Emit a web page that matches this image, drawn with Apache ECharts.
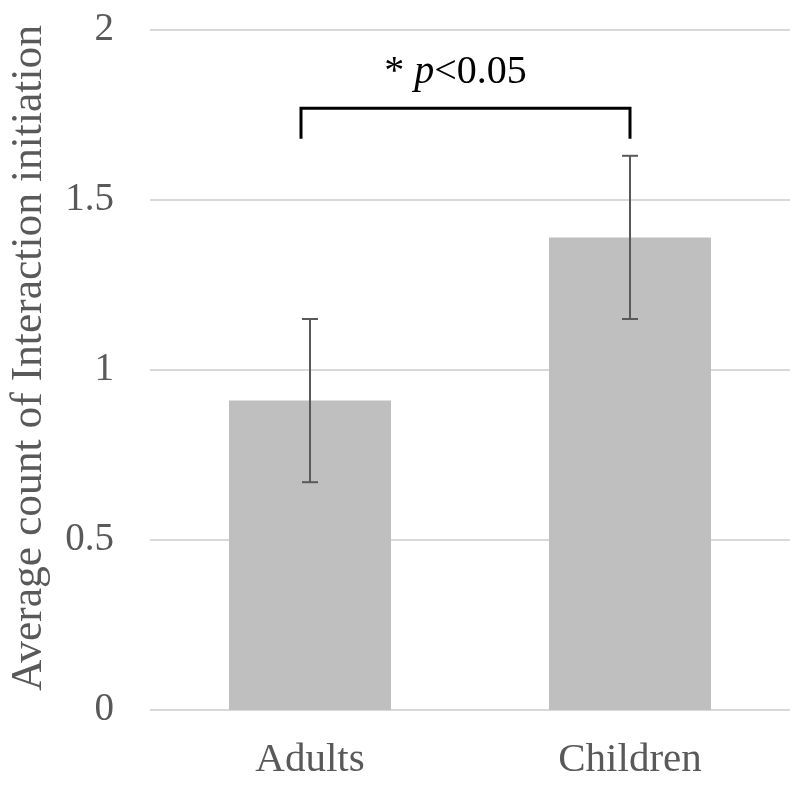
<!DOCTYPE html>
<html>
<head>
<meta charset="utf-8">
<script src="https://cdn.jsdelivr.net/npm/echarts@6/dist/echarts.min.js"></script>
<style>html,body{margin:0;padding:0;background:#fff}#c{width:800px;height:787px}</style>
</head>
<body>
<div id="c"></div>
<script>
const categories = ['Adults', 'Children'];
const means = [0.91, 1.39];
const errors = [0.24, 0.24];
const yTicks = [0, 0.5, 1, 1.5, 2];
const yAxisTitle = 'Average count of Interaction initiation';
const sigFrom = 'Adults';
const sigTo = 'Children';
const sigTop = 1.77;
const sigBottom = 1.68;
const sigText = '* p<0.05';

const chart = echarts.init(document.getElementById('c'), null, {renderer: 'canvas'});
const FONT = '"Liberation Serif", "Times New Roman", serif';

const errData = categories.map((c, i) => [i, means[i] - errors[i], means[i] + errors[i]]);

chart.setOption({
  animation: false,
  grid: {left: 150, right: 10, top: 30, bottom: 77},
  xAxis: {
    type: 'category',
    data: categories,
    axisLine: {show: false},
    axisTick: {show: false},
    axisLabel: {color: '#595959', fontFamily: FONT, fontSize: 41, margin: 30}
  },
  yAxis: {
    type: 'value',
    min: yTicks[0], max: yTicks[yTicks.length - 1], interval: 0.5,
    name: yAxisTitle,
    nameLocation: 'middle',
    nameGap: 98,
    nameTextStyle: {color: '#595959', fontFamily: FONT, fontSize: 43.5, padding: [0, 0, 0, 24]},
    axisLine: {show: false},
    axisTick: {show: false},
    splitLine: {lineStyle: {color: '#d9d9d9', width: 2}},
    axisLabel: {color: '#595959', fontFamily: FONT, fontSize: 39, margin: 36}
  },
  series: [
    {
      type: 'bar',
      data: means,
      barWidth: 162,
      itemStyle: {color: '#bfbfbf'}
    },
    {
      type: 'custom',
      data: errData,
      renderItem: function (params, api) {
        const x = api.value(0);
        const lo = api.coord([x, api.value(1)]);
        const hi = api.coord([x, api.value(2)]);
        const hw = 8;
        const st = {stroke: '#595959', lineWidth: 2};
        return {type: 'group', children: [
          {type: 'line', shape: {x1: lo[0], y1: lo[1], x2: hi[0], y2: hi[1]}, style: st},
          {type: 'line', shape: {x1: lo[0] - hw, y1: lo[1], x2: lo[0] + hw, y2: lo[1]}, style: st},
          {type: 'line', shape: {x1: hi[0] - hw, y1: hi[1], x2: hi[0] + hw, y2: hi[1]}, style: st}
        ]};
      },
      z: 5
    },
    {
      type: 'custom',
      data: [[categories.indexOf(sigFrom), categories.indexOf(sigTo), sigTop, sigBottom]],
      renderItem: function (params, api) {
        const a = api.coord([api.value(0), api.value(2)]);
        const b = api.coord([api.value(1), api.value(2)]);
        const ab = api.coord([api.value(0), api.value(3)]);
        const x1 = a[0] - 9, x2 = b[0];
        const st = {stroke: '#000', lineWidth: 3, fill: null, lineJoin: 'miter'};
        return {type: 'group', children: [
          {type: 'polyline', shape: {points: [[x1, ab[1]], [x1, a[1]], [x2, a[1]], [x2, ab[1]]]}, style: st},
          {type: 'text', x: (x1 + x2) / 2 - 10, y: a[1] - 36,
            style: {
              text: '{n|* }{i|p}{n|<0.05}',
              align: 'center', verticalAlign: 'middle',
              rich: {
                n: {fontFamily: FONT, fontSize: 40, fill: '#000'},
                i: {fontFamily: FONT, fontSize: 40, fontStyle: 'italic', fill: '#000'}
              }
            }}
        ]};
      },
      z: 6
    }
  ]
});
</script>
</body>
</html>
